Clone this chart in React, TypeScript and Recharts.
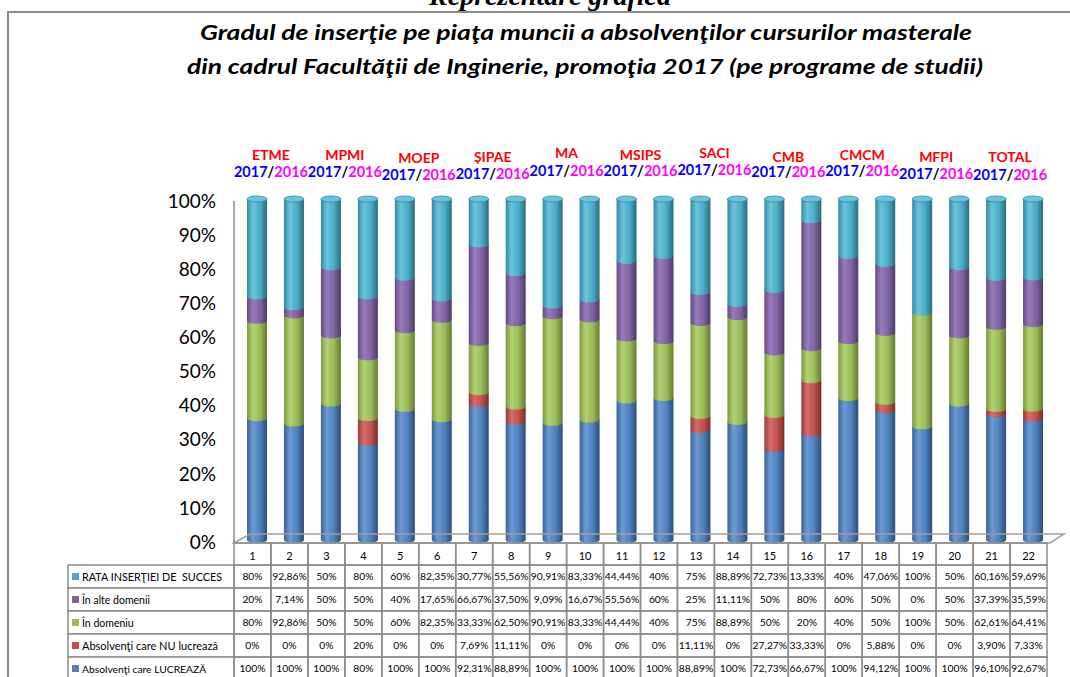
import React from 'react';
import { BarChart, Bar, XAxis, YAxis } from 'recharts';

// ---------- DATA ----------
const categories = ['1', '2', '3', '4', '5', '6', '7', '8', '9', '10', '11', '12', '13', '14', '15', '16', '17', '18', '19', '20', '21', '22'];
const groupNames = ['ETME', 'MPMI', 'MOEP', 'ȘIPAE', 'MA', 'MSIPS', 'SACI', 'CMB', 'CMCM', 'MFPI', 'TOTAL'];
const yearNew = '2017';
const yearOld = '2016';

const rataInsertiei = [80, 92.86, 50, 80, 60, 82.35, 30.77, 55.56, 90.91, 83.33, 44.44, 40, 75, 88.89, 72.73, 13.33, 40, 47.06, 100, 50, 60.16, 59.69];
const inAlteDomenii = [20, 7.14, 50, 50, 40, 17.65, 66.67, 37.5, 9.09, 16.67, 55.56, 60, 25, 11.11, 50, 80, 60, 50, 0, 50, 37.39, 35.59];
const inDomeniu = [80, 92.86, 50, 50, 60, 82.35, 33.33, 62.5, 90.91, 83.33, 44.44, 40, 75, 88.89, 50, 20, 40, 50, 100, 50, 62.61, 64.41];
const nuLucreaza = [0, 0, 0, 20, 0, 0, 7.69, 11.11, 0, 0, 0, 0, 11.11, 0, 27.27, 33.33, 0, 5.88, 0, 0, 3.9, 7.33];
const lucreaza = [100, 100, 100, 80, 100, 100, 92.31, 88.89, 100, 100, 100, 100, 88.89, 100, 72.73, 66.67, 100, 94.12, 100, 100, 96.1, 92.67];

const yTicks = [0, 0.1, 0.2, 0.3, 0.4, 0.5, 0.6, 0.7, 0.8, 0.9, 1];

const seriesLabels = {
  rata: 'RATA INSERŢIEI DE  SUCCES',
  alte: 'În alte domenii',
  domeniu: 'În domeniu',
  nu: 'Absolvenţi care NU lucrează',
  lucreaza: 'Absolvenţi care LUCREAZĂ',
};

const data = categories.map((c, i) => ({
  cat: c,
  lucreaza: lucreaza[i],
  nu: nuLucreaza[i],
  domeniu: inDomeniu[i],
  alte: inAlteDomenii[i],
  rata: rataInsertiei[i],
}));

// ---------- STYLE / LAYOUT ----------
const W = 1070;
const H = 677;
const PLOT_LEFT = 234;
const PLOT_RIGHT = 1047;
const PLOT_TOP = 201;
const PLOT_BOTTOM = 542;
const BW = (PLOT_RIGHT - PLOT_LEFT) / categories.length;
const GRID = '#8c8c8c';
const DEPTH_X = 5; // 3D depth shift of the cylinders
const DEPTH_Y = 2;

const colors: Record<string, { base: string; dark: string; light: string; edge: string }> = {
  lucreaza: { base: '#4F81BD', dark: '#3A6396', light: '#6C9AD2', edge: '#2C4D78' },
  nu: { base: '#C0504D', dark: '#9B3B38', light: '#D66D6A', edge: '#7E2C2A' },
  domeniu: { base: '#9BBB59', dark: '#7B9A3F', light: '#B3D173', edge: '#627C30' },
  alte: { base: '#8064A2', dark: '#644B84', light: '#987CBA', edge: '#4F3A69' },
  rata: { base: '#4BACC6', dark: '#3489A1', light: '#6CC4DC', edge: '#276D80' },
};

// table rows top-to-bottom
const tableRows = [
  { key: 'rata', values: rataInsertiei, label: seriesLabels.rata, size: 10.8 },
  { key: 'alte', values: inAlteDomenii, label: seriesLabels.alte, size: 10.5 },
  { key: 'domeniu', values: inDomeniu, label: seriesLabels.domeniu, size: 10.5 },
  { key: 'nu', values: nuLucreaza, label: seriesLabels.nu, size: 11 },
  { key: 'lucreaza', values: lucreaza, label: seriesLabels.lucreaza, size: 10.3 },
];

const nameDy = [0, 0, 3, 2, -2, 0, -2, 2, 0, 2, 2];
const yearDy = [0, 0, 3, 2, -1, -1, -2, 0, -1, 2, 3];

const fmt = (v: number) => {
  if (Math.abs(v - Math.round(v)) < 1e-9) return `${Math.round(v)}%`;
  return `${v.toFixed(2).replace('.', ',')}%`;
};

const FONT = 'Lato, "Open Sans", sans-serif';

const cylinder = (key: string, isTop: boolean) => (p: any) => {
  const { width, height } = p;
  if (!height || height <= 0.05) return <g />;
  const x = p.x + DEPTH_X;
  const y = p.y - DEPTH_Y;
  const c = colors[key];
  const cx = x + width / 2;
  const rx = width / 2;
  return (
    <g>
      <rect x={x} y={y} width={width} height={height} fill={`url(#cyl-${key})`} />
      <ellipse cx={cx} cy={y + height} rx={rx} ry={3} fill={`url(#cyl-${key})`} />
      {isTop && (
        <ellipse cx={cx} cy={y} rx={rx} ry={3} fill={c.light} stroke={c.dark} strokeWidth={0.8} />
      )}
    </g>
  );
};

const TableTick = (props: any) => {
  const { x, y, payload } = props;
  const i: number = payload && payload.index != null ? payload.index : props.index;
  const left = x - BW / 2;
  const y0 = y;
  const headTop = y0 + 1;
  const rowTop = y0 + 23;
  const RH = 23;
  const legendLeft = 68;
  const els: any[] = [];

  if (i === 0) {
    // 3D floor
    els.push(
      <polygon
        key="floor"
        points={`${PLOT_LEFT},${headTop} ${PLOT_LEFT + 16},${y0 - 8} ${PLOT_RIGHT + 17},${y0 - 8} ${PLOT_RIGHT + 3},${headTop}`}
        fill="none"
        stroke="#a0a0a0"
        strokeWidth={1.5}
      />
    );
    els.push(<line key="wall" x1={PLOT_LEFT} y1={y0 - 2} x2={PLOT_LEFT} y2={headTop} stroke={GRID} strokeWidth={1.5} />);
    // legend column
    tableRows.forEach((r, ri) => {
      const ty = rowTop + ri * RH;
      els.push(
        <rect key={`lg-${ri}`} x={legendLeft} y={ty} width={left - legendLeft} height={RH} fill="#fff" stroke={GRID} strokeWidth={1.5} />
      );
      els.push(<rect key={`lm-${ri}`} x={legendLeft + 4} y={ty + RH / 2 - 3.5} width={7} height={7} fill={colors[r.key].base} />);
      els.push(
        <text
          key={`lt-${ri}`}
          x={legendLeft + 14}
          y={ty + RH / 2 + 4}
          fontSize={r.size}
          fontFamily={FONT}
          fill="#000"
          style={{ whiteSpace: 'pre' }}
        >
          {r.label}
        </text>
      );
    });
  }

  // header cell
  els.push(<rect key="hc" x={left} y={headTop} width={BW} height={rowTop - headTop} fill="none" stroke={GRID} strokeWidth={1.5} />);
  els.push(
    <text key="ht" x={x} y={rowTop - 5} textAnchor="middle" fontSize={11} fontFamily={FONT} fill="#000">
      {payload.value}
    </text>
  );
  tableRows.forEach((r, ri) => {
    const ty = rowTop + ri * RH;
    els.push(<rect key={`c-${ri}`} x={left} y={ty} width={BW} height={RH} fill="none" stroke={GRID} strokeWidth={1.5} />);
    els.push(
      <text key={`t-${ri}`} x={x} y={ty + RH / 2 + 3.5} textAnchor="middle" fontSize={10.3} fontFamily={FONT} fill="#000">
        {fmt(r.values[i])}
      </text>
    );
  });

  // group labels above the columns
  if (i % 2 === 0) {
    const g = i / 2;
    const gx = x + BW / 2;
    els.push(
      <text key="gn" x={gx} y={160 + nameDy[g]} textAnchor="middle" fontSize={14} fontWeight="bold" fontFamily={FONT} fill="#FF0000">
        {groupNames[g]}
      </text>
    );
    els.push(
      <text key="gy" x={gx} y={177 + yearDy[g]} textAnchor="middle" fontSize={14.5} fontWeight="bold" fontFamily={FONT}>
        <tspan fill="#0000FF">{yearNew}</tspan>
        <tspan fill="#000">/</tspan>
        <tspan fill="#FF00FF">{yearOld}</tspan>
      </text>
    );
  }
  return <g>{els}</g>;
};

export default function App() {
  return (
    <div style={{ position: 'absolute', left: 0, top: 0, width: W, height: H, background: '#fff', overflow: 'hidden' }}>
      <div
        style={{
          position: 'absolute',
          left: 7,
          top: 11,
          width: W,
          height: H,
          borderLeft: '2px solid #8a8a8a',
          borderTop: '2px solid #8a8a8a',
        }}
      />
      <svg width={W} height={H} style={{ position: 'absolute', left: 0, top: 0, pointerEvents: 'none' }}>
        <text
          x={550}
          y={5}
          textAnchor="middle"
          fontSize={28}
          fontWeight="bold"
          fontStyle="italic"
          fontFamily='"Liberation Serif", "Times New Roman", serif'
          fill="#000"
        >
          Reprezentare grafică
        </text>
        <text
          x={200}
          y={40}
          textLength={772}
          lengthAdjust="spacingAndGlyphs"
          fontSize={21}
          fontWeight="bold"
          fontStyle="italic"
          fontFamily={FONT}
          fill="#000"
        >
          Gradul de inserţie pe piaţa muncii a absolvenţilor cursurilor masterale
        </text>
        <text
          x={187}
          y={74}
          textLength={796}
          lengthAdjust="spacingAndGlyphs"
          fontSize={21}
          fontWeight="bold"
          fontStyle="italic"
          fontFamily={FONT}
          fill="#000"
        >
          din cadrul Facultăţii de Inginerie, promoţia 2017 (pe programe de studii)
        </text>
      </svg>
      <div style={{ position: 'absolute', left: 0, top: 0 }}>
        <BarChart
          width={W}
          height={H}
          data={data}
          stackOffset="expand"
          barSize={20}
          margin={{ top: PLOT_TOP, right: W - PLOT_RIGHT, bottom: 0, left: PLOT_LEFT - 84 }}
        >
          <defs>
            {Object.keys(colors).map((k) => (
              <linearGradient key={k} id={`cyl-${k}`} x1="0" y1="0" x2="1" y2="0">
                <stop offset="0%" stopColor={colors[k].dark} />
                <stop offset="30%" stopColor={colors[k].light} />
                <stop offset="65%" stopColor={colors[k].base} />
                <stop offset="100%" stopColor={colors[k].edge} />
              </linearGradient>
            ))}
          </defs>
          <XAxis
            dataKey="cat"
            height={H - PLOT_BOTTOM}
            axisLine={false}
            tickLine={false}
            tickSize={0}
            tickMargin={0}
            interval={0}
            tick={<TableTick />}
          />
          <YAxis
            type="number"
            domain={[0, 1]}
            ticks={yTicks}
            width={84}
            tickFormatter={(v: number) => `${Math.round(v * 100)}%`}
            axisLine={{ stroke: GRID, strokeWidth: 1.5 }}
            tickLine={false}
            tickSize={0}
            tickMargin={18}
            tick={{ fontSize: 19, fill: '#000', fontFamily: FONT }}
          />
          <Bar dataKey="lucreaza" name={seriesLabels.lucreaza} stackId="a" fill={colors.lucreaza.base} shape={cylinder('lucreaza', false)} isAnimationActive={false} />
          <Bar dataKey="nu" name={seriesLabels.nu} stackId="a" fill={colors.nu.base} shape={cylinder('nu', false)} isAnimationActive={false} />
          <Bar dataKey="domeniu" name={seriesLabels.domeniu} stackId="a" fill={colors.domeniu.base} shape={cylinder('domeniu', false)} isAnimationActive={false} />
          <Bar dataKey="alte" name={seriesLabels.alte} stackId="a" fill={colors.alte.base} shape={cylinder('alte', false)} isAnimationActive={false} />
          <Bar dataKey="rata" name={seriesLabels.rata} stackId="a" fill={colors.rata.base} shape={cylinder('rata', true)} isAnimationActive={false} />
        </BarChart>
      </div>
    </div>
  );
}
